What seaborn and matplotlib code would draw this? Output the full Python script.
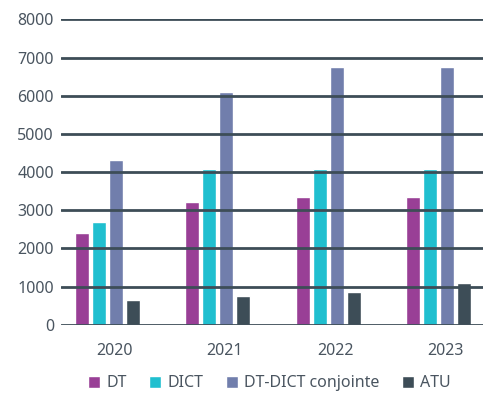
import matplotlib
matplotlib.use("Agg")
import matplotlib.pyplot as plt
import matplotlib.transforms as mtransforms
import seaborn as sns
import pandas as pd

years = ["2020", "2021", "2022", "2023"]
series = ["DT", "DICT", "DT-DICT conjointe", "ATU"]
dt = [2400, 3220, 3350, 3350]
dict_ = [2700, 4080, 4080, 4080]
conjointe = [4320, 6100, 6760, 6760]
atu = [640, 760, 870, 1100]
yticks = [0, 1000, 2000, 3000, 4000, 5000, 6000, 7000, 8000]

colors = ["#993f96", "#20bfcf", "#717eac", "#3d4d57"]
text_color = "#4a5560"
grid_color = "#3d4d57"

sns.set_theme(style="white")
plt.rcParams["font.family"] = ["Noto Sans", "DejaVu Sans"]

df = pd.DataFrame({
    "year": years * 4,
    "serie": [s for s in series for _ in years],
    "value": dt + dict_ + conjointe + atu,
})

fig = plt.figure(figsize=(4.83, 4.05), dpi=100)
ax = fig.add_axes([0.126, 0.198, 0.874, 0.754])

sns.barplot(data=df, x="year", y="value", hue="serie", order=years,
            hue_order=series, palette=colors, width=0.616, gap=0.18,
            saturation=1, ax=ax, legend=True)

ax.set_ylim(0, 8000)
ax.set_xlim(-0.42, 3.4)
ax.set_yticks(yticks)
ax.set_yticklabels([str(v) for v in yticks])
ax.set_xlabel("")
ax.set_ylabel("")
for s in ax.spines.values():
    s.set_visible(False)

ax.set_axisbelow(False)
ax.yaxis.grid(True, color=grid_color, linewidth=2.0, zorder=5)
ax.xaxis.grid(False)

ax.tick_params(axis="y", length=0, pad=5, labelsize=11.5, labelcolor=text_color)
ax.tick_params(axis="x", length=0, pad=13, labelsize=11.5, labelcolor=text_color)

# nudge year labels slightly to the right of the group centre
offset = mtransforms.ScaledTranslation(7 / 100, 0, fig.dpi_scale_trans)
for lbl in ax.get_xticklabels():
    lbl.set_transform(lbl.get_transform() + offset)

sns.move_legend(ax, "lower center", bbox_to_anchor=((0.558 - 0.126) / 0.874, -0.265),
                ncol=4, frameon=False, title=None, handlelength=0.75,
                handleheight=0.75, handletextpad=0.4, columnspacing=1.4,
                fontsize=11.5, labelcolor=text_color)

fig.savefig("out.png", dpi=100)
